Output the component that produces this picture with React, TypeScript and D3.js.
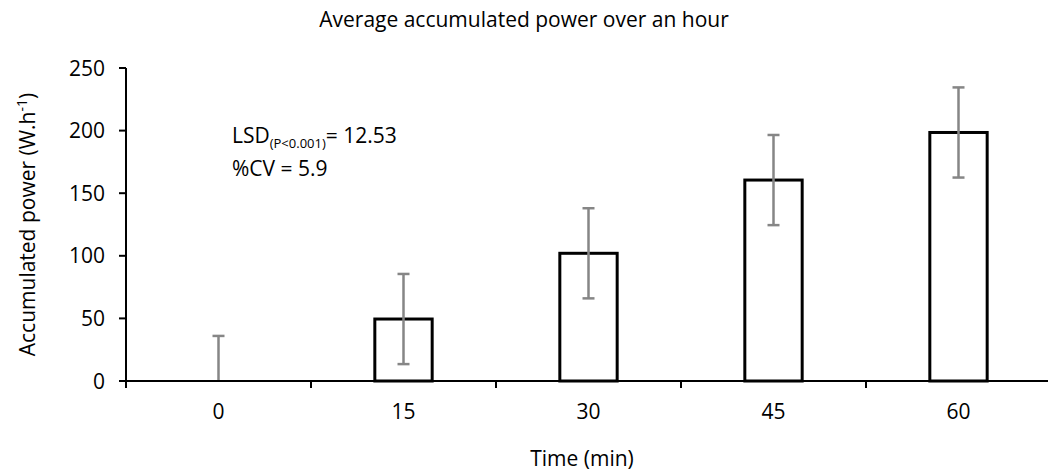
import React from "react";
import * as d3 from "d3";

const times = ["0", "15", "30", "45", "60"];
const power = [0, 49.5, 102, 160.5, 198.5];
const errors = [36, 36, 36, 36, 36];
const yTicks = [0, 50, 100, 150, 200, 250];

const width = 1048;
const height = 474;
const margin = { top: 68, right: -3, bottom: 93, left: 126 };
const font = "'Open Sans', sans-serif";
const fs = 21;

const x = d3
  .scaleBand()
  .domain(times)
  .range([margin.left, width - margin.right])
  .paddingInner(0)
  .paddingOuter(0);

const y = d3
  .scaleLinear()
  .domain([0, 250])
  .range([height - margin.bottom, margin.top]);

const barW = x.bandwidth() * 0.31;

const App = () => {
  const y0 = y(0);
  const edges = times.map((t) => x(t) as number);

  return (
    <svg
      width={width}
      height={height}
      style={{ position: "absolute", left: 0, top: 0, display: "block" }}
      fontFamily={font}
    >
      <text x={524} y={27} textAnchor="middle" fontSize={fs} fill="#000">
        Average accumulated power over an hour
      </text>

      {/* bars */}
      {times.map((t, i) => {
        const cx = (x(t) as number) + x.bandwidth() / 2;
        if (power[i] <= 0) return null;
        return (
          <rect
            key={t}
            x={cx - barW / 2}
            y={y(power[i])}
            width={barW}
            height={y0 - y(power[i])}
            fill="#fff"
            stroke="#000"
            strokeWidth={3}
          />
        );
      })}

      {/* error bars */}
      {times.map((t, i) => {
        const cx = (x(t) as number) + x.bandwidth() / 2;
        const hi = y(power[i] + errors[i]);
        const lo = y(Math.max(0, power[i] - errors[i]));
        return (
          <g key={t} stroke="#868686" strokeWidth={2.5}>
            <line x1={cx} x2={cx} y1={hi} y2={lo} />
            <line x1={cx - 6} x2={cx + 6} y1={hi} y2={hi} />
            {power[i] - errors[i] > 0 && (
              <line x1={cx - 6} x2={cx + 6} y1={lo} y2={lo} />
            )}
          </g>
        );
      })}

      {/* y axis */}
      <line x1={margin.left} x2={margin.left} y1={y(250)} y2={y0} stroke="#000" strokeWidth={2} />
      {yTicks.map((v) => (
        <g key={v}>
          <line x1={margin.left - 7} x2={margin.left} y1={y(v)} y2={y(v)} stroke="#000" strokeWidth={2} />
          <text x={105} y={y(v)} dy="0.36em" textAnchor="end" fontSize={fs}>
            {v}
          </text>
        </g>
      ))}

      {/* x axis */}
      <line x1={margin.left - 7} x2={width + 5} y1={y0} y2={y0} stroke="#000" strokeWidth={2} />
      {edges.map((e, i) => (
        <line key={i} x1={e} x2={e} y1={y0} y2={y0 + 7} stroke="#000" strokeWidth={2} />
      ))}
      {times.map((t) => (
        <text
          key={t}
          x={(x(t) as number) + x.bandwidth() / 2}
          y={419}
          textAnchor="middle"
          fontSize={fs}
        >
          {t}
        </text>
      ))}

      <text x={582} y={466} textAnchor="middle" fontSize={fs}>
        Time (min)
      </text>

      <text
        transform={`translate(35,${y(125)}) rotate(-90)`}
        textAnchor="middle"
        fontSize={fs}
      >
        Accumulated power (W.h
        <tspan dy={-8} fontSize={14}>-1</tspan>
        <tspan dy={8}>)</tspan>
      </text>

      {/* annotation */}
      <text x={232} y={143} fontSize={fs}>
        LSD
        <tspan dy={5} fontSize={13}>(P&lt;0.001)</tspan>
        <tspan dy={-5}>= 12.53</tspan>
      </text>
      <text x={232} y={176} fontSize={fs}>
        %CV = 5.9
      </text>
    </svg>
  );
};

export default App;
